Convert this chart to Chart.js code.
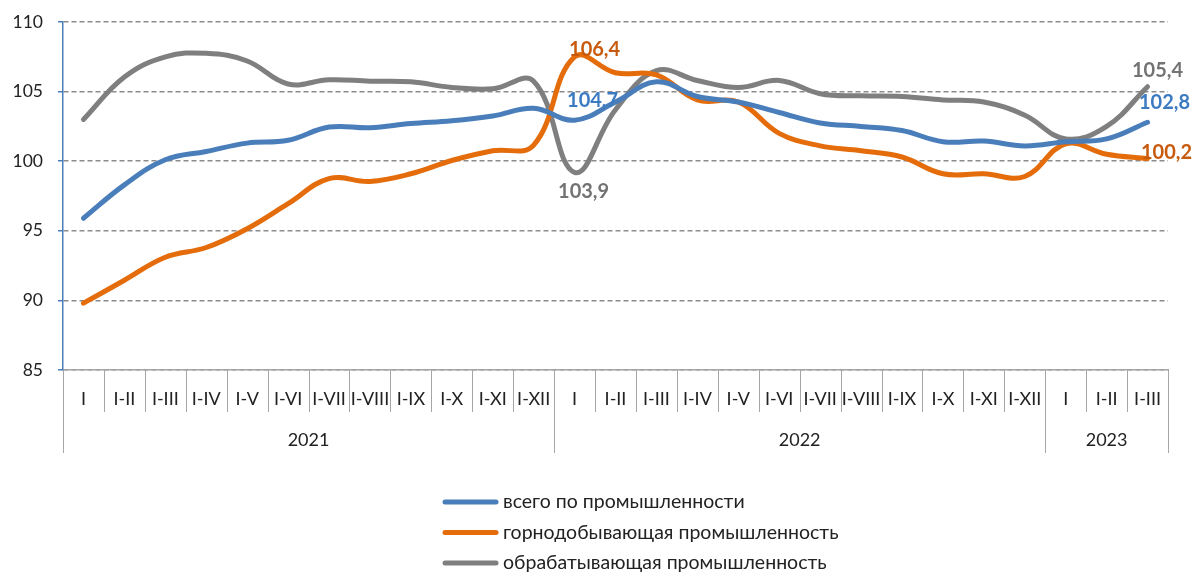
<!DOCTYPE html>
<html>
<head>
<meta charset="utf-8">
<script src="https://cdn.jsdelivr.net/npm/chart.js@4"></script>
<style>
  body { margin: 0; background: #fff; }
  #wrap { width: 1195px; height: 572px; position: relative; }
</style>
</head>
<body>
<div id="wrap"><canvas id="chart"></canvas></div>
<script>
// Периоды (накопительно с начала года)
const periods = [
    'I', 'I-II', 'I-III', 'I-IV', 'I-V', 'I-VI', 'I-VII', 'I-VIII', 'I-IX', 'I-X', 'I-XI', 'I-XII',
    'I', 'I-II', 'I-III', 'I-IV', 'I-V', 'I-VI', 'I-VII', 'I-VIII', 'I-IX', 'I-X', 'I-XI', 'I-XII',
    'I', 'I-II', 'I-III'
];
const years = ['2021', '2022', '2023'];
const yearCounts = [12, 12, 3];

// Индексы, %
const total = [95.9, 98.3, 100.1, 100.7, 101.3, 101.5, 102.45, 102.4, 102.7, 102.9, 103.25, 103.8,
    102.95, 104.25, 105.7, 104.65, 104.25, 103.5, 102.75, 102.5, 102.2, 101.4, 101.45, 101.1,
    101.4, 101.6, 102.8];
const mining = [89.8, 91.45, 93.1, 93.8, 95.15, 96.95, 98.75, 98.55, 99.1, 100.05, 100.75, 101.15,
    107.5, 106.35, 106.2, 104.4, 104.25, 102.0, 101.1, 100.75, 100.3, 99.1, 99.1, 98.9,
    101.25, 100.5, 100.2];
const manufacturing = [103.0, 106.05, 107.5, 107.75, 107.2, 105.55, 105.85, 105.75, 105.7, 105.3, 105.2, 105.75,
    99.2, 103.7, 106.5, 105.8, 105.3, 105.8, 104.85, 104.7, 104.65, 104.4, 104.25, 103.3,
    101.6, 102.5, 105.35];

const seriesNames = ['всего по промышленности', 'горнодобывающая промышленность', 'обрабатывающая промышленность'];

// Подписи данных (текст как на исходнике)
const callouts = [
    { series: 0, index: 12, text: '104,7' },
    { series: 1, index: 12, text: '106,4' },
    { series: 2, index: 12, text: '103,9' },
    { series: 2, index: 26, text: '105,4' },
    { series: 0, index: 26, text: '102,8' },
    { series: 1, index: 26, text: '100,2' }
];

// Смещения подписей относительно точки
const calloutOffsets = [[18, -20], [20, -7], [9, 19], [10, -16], [17, -20], [19, -6]];

const lineColors = ['#4a7ebb', '#e46c0a', '#7f7f7f'];
const labelColors = ['#3c7bc2', '#c85a0e', '#737373'];
const textColor = '#222222';
const FONT = 'Lato, "Open Sans", "DejaVu Sans", sans-serif';

const decorPlugin = {
    id: 'decor',
    afterDraw(chart) {
        const ctx = chart.ctx;
        const area = chart.chartArea;
        const n = periods.length;
        const step = (area.right - area.left) / n;

        // разделители категорий и годов
        const yearBreaks = [0];
        yearCounts.reduce((acc, c) => { yearBreaks.push(acc + c); return acc + c; }, 0);
        ctx.save();
        ctx.strokeStyle = '#a6a6a6';
        ctx.lineWidth = 1;
        for (let i = 0; i <= n; i++) {
            const x = Math.round(area.left + i * step) + 0.5;
            const long = yearBreaks.includes(i);
            ctx.beginPath();
            ctx.moveTo(x, area.bottom);
            ctx.lineTo(x, long ? area.bottom + 83 : area.bottom + 42);
            ctx.stroke();
        }

        // подписи годов
        ctx.fillStyle = textColor;
        ctx.font = '18px ' + FONT;
        ctx.textAlign = 'center';
        ctx.textBaseline = 'middle';
        for (let k = 0; k < years.length; k++) {
            const x0 = area.left + yearBreaks[k] * step;
            const x1 = area.left + yearBreaks[k + 1] * step;
            ctx.fillText(years[k], (x0 + x1) / 2, area.bottom + 70);
        }

        // подписи данных
        ctx.font = 'bold 20px ' + FONT;
        callouts.forEach((c, j) => {
            const pt = chart.getDatasetMeta(c.series).data[c.index];
            ctx.fillStyle = labelColors[c.series];
            ctx.fillText(c.text, pt.x + calloutOffsets[j][0], pt.y + calloutOffsets[j][1]);
        });

        // легенда
        ctx.textAlign = 'left';
        ctx.font = '19.5px ' + FONT;
        seriesNames.forEach((name, j) => {
            const y = 502 + j * 30.5;
            ctx.strokeStyle = lineColors[j];
            ctx.lineWidth = 5;
            ctx.lineCap = 'round';
            ctx.beginPath();
            ctx.moveTo(445, y);
            ctx.lineTo(496, y);
            ctx.stroke();
            ctx.fillStyle = textColor;
            ctx.fillText(name, 503, y);
        });
        ctx.restore();
    }
};

const ctx = document.getElementById('chart').getContext('2d');
new Chart(ctx, {
    type: 'line',
    data: {
        labels: periods,
        datasets: [total, mining, manufacturing].map((d, j) => ({
            label: seriesNames[j],
            data: d,
            borderColor: lineColors[j],
            backgroundColor: lineColors[j],
            borderWidth: 5,
            borderCapStyle: 'round',
            pointRadius: 0,
            tension: 0.4,
            fill: false
        }))
    },
    options: {
        responsive: true,
        maintainAspectRatio: false,
        animation: false,
        layout: { padding: { top: 22, right: 27, left: 0, bottom: 0 } },
        plugins: {
            legend: { display: false },
            tooltip: { enabled: false }
        },
        scales: {
            x: {
                offset: true,
                grid: { display: false, drawTicks: false },
                border: { display: true, color: '#a6a6a6', width: 1.5 },
                ticks: {
                    autoSkip: false,
                    maxRotation: 0,
                    padding: 18,
                    color: textColor,
                    font: { family: FONT, size: 18 }
                },
                afterFit(scale) { scale.height = 202; }
            },
            y: {
                min: 85,
                max: 110,
                ticks: {
                    stepSize: 5,
                    padding: 15,
                    color: textColor,
                    font: { family: FONT, size: 17.5 }
                },
                grid: {
                    color: '#8c8c8c',
                    lineWidth: 1.5,
                    drawTicks: true,
                    tickLength: 5,
                    tickColor: '#4a7ebb'
                },
                border: { display: true, color: '#4a7ebb', width: 1.5, dash: [5, 3] },
                afterFit(scale) {
                    scale.width = 63;
                    scale.paddingTop = 0;
                    scale.paddingBottom = 0;
                }
            }
        }
    },
    plugins: [decorPlugin]
});
</script>
</body>
</html>
